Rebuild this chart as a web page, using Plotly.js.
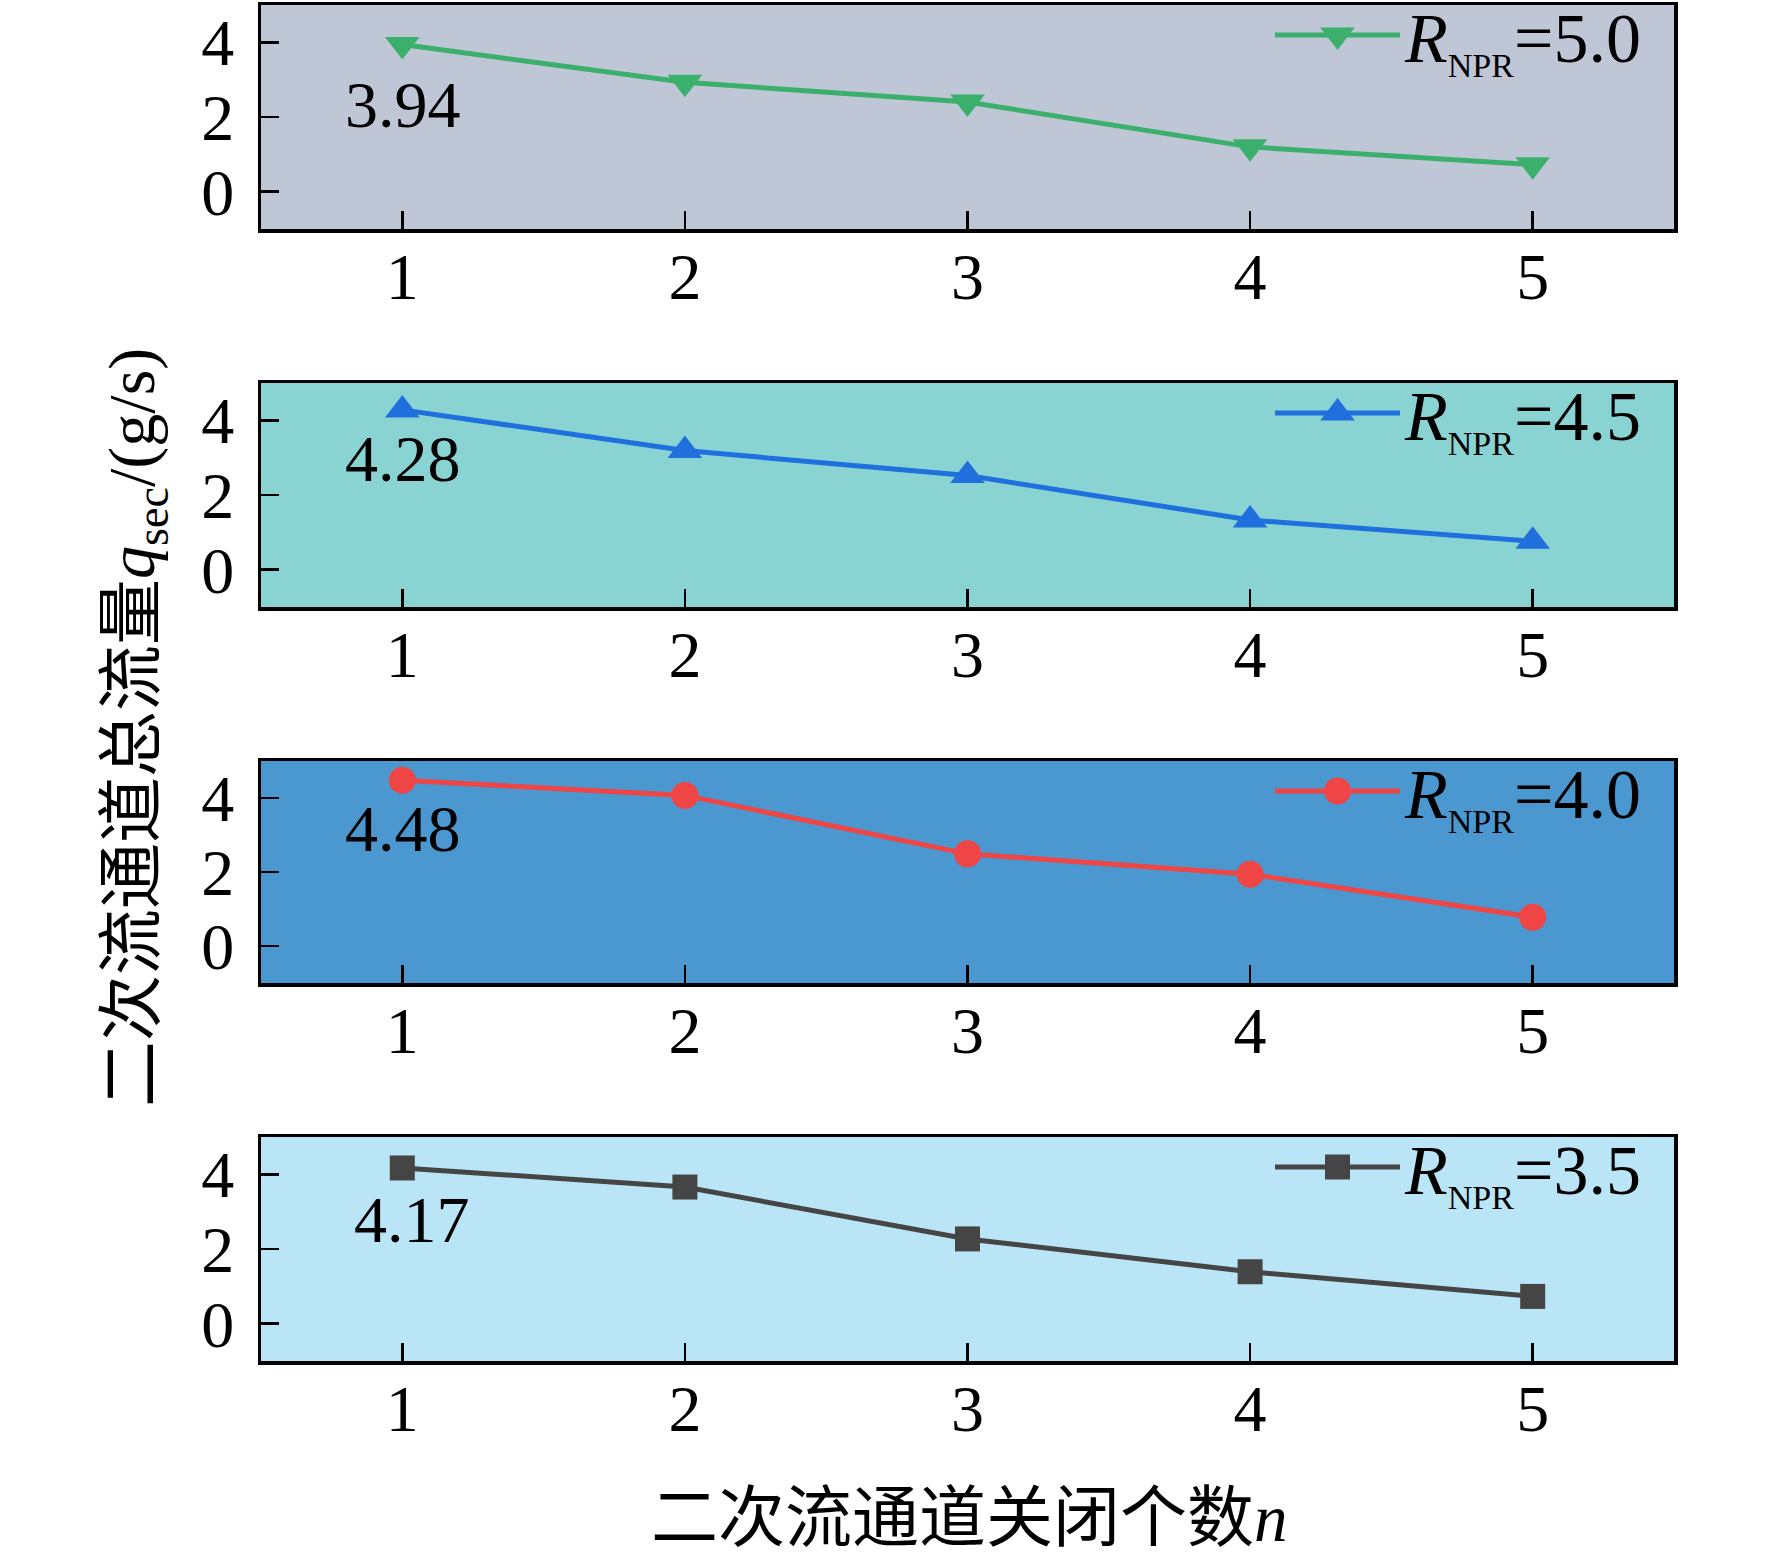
<!DOCTYPE html>
<html>
<head>
<meta charset="utf-8">
<script src="https://cdn.plot.ly/plotly-3.0.1.min.js"></script>
<style>
  html, body { margin: 0; padding: 0; background: #fff; }
  #chart { width: 1772px; height: 1557px; }
</style>
</head>
<body>
<div id="chart"></div>
<script>
// 数据：二次流通道关闭个数 n 与二次流通道总流量 q_sec (g/s)
const nClosed = [1, 2, 3, 4, 5];
const qNpr50 = [3.94, 2.93, 2.40, 1.20, 0.72];
const qNpr45 = [4.28, 3.19, 2.52, 1.33, 0.76];
const qNpr40 = [4.48, 4.07, 2.49, 1.94, 0.78];
const qNpr35 = [4.17, 3.66, 2.27, 1.39, 0.73];
const nprLabels = ['5.0', '4.5', '4.0', '3.5'];
const xTicks = [1, 2, 3, 4, 5];
const yTicks = [0, 2, 4];

const FONT = 'Liberation Serif, "Noto Sans CJK SC", serif';
const W = 1772, H = 1557;

// 每个子图的样式（从上到下）
const panels = [
  { q: qNpr50, npr: nprLabels[0], color: '#3BB06C', symbol: 'triangle-down', size: 30, bg: '#BFC6D6', top: 5,    bottom: 229,  lx: 1,  ly: -60 },
  { q: qNpr45, npr: nprLabels[1], color: '#1F6FDD', symbol: 'triangle-up',   size: 30, bg: '#8AD3D3', top: 383,  bottom: 607,  lx: 1,  ly: -49 },
  { q: qNpr40, npr: nprLabels[2], color: '#EF4545', symbol: 'circle',        size: 27, bg: '#4B97D0', top: 761,  bottom: 983,  lx: 1,  ly: -48 },
  { q: qNpr35, npr: nprLabels[3], color: '#454545', symbol: 'square',        size: 25, bg: '#BAE5F7', top: 1137, bottom: 1361, lx: 10, ly: -52 }
];

const xDomain = [261 / W, 1674 / W];
const traces = [], shapes = [], annotations = [];
const layout = {
  width: W, height: H,
  margin: { l: 0, r: 0, t: 0, b: 0, autoexpand: false },
  paper_bgcolor: '#ffffff',
  plot_bgcolor: 'rgba(0,0,0,0)',
  font: { family: FONT, size: 64, color: '#000' },
  showlegend: true
};

panels.forEach((p, i) => {
  const k = i === 0 ? '' : String(i + 1);
  const xa = 'x' + k, ya = 'y' + k, lg = 'legend' + k;
  traces.push({
    x: nClosed, y: p.q, xaxis: xa, yaxis: ya, legend: lg,
    type: 'scatter', mode: 'lines+markers',
    name: '<i>R</i><sub><span style="font-size:34px">NPR</span></sub>=' + p.npr,
    line: { color: p.color, width: 5 },
    marker: { color: p.color, symbol: p.symbol, size: p.size, line: { width: 0 } },
    cliponaxis: false
  });
  const yDom = [(H - p.bottom) / H, (H - p.top) / H];
  layout['xaxis' + k] = {
    domain: xDomain, anchor: ya, range: [0.5, 5.5],
    tickvals: xTicks, ticks: 'inside', ticklen: 18, tickwidth: 2.5, tickcolor: '#000',
    showline: true, mirror: true, linewidth: 3.5, linecolor: '#000',
    showgrid: false, zeroline: false, automargin: false,
    ticklabelstandoff: -13,
    tickfont: { family: FONT, size: 66, color: '#000' }
  };
  layout['yaxis' + k] = {
    domain: yDom, anchor: xa, range: [-1, 5],
    tickvals: yTicks, ticks: 'inside', ticklen: 18, tickwidth: 2.5, tickcolor: '#000',
    showline: true, mirror: true, linewidth: 3.5, linecolor: '#000',
    showgrid: false, zeroline: false, automargin: false,
    ticklabelstandoff: 10,
    tickfont: { family: FONT, size: 66, color: '#000' }
  };
  layout[lg] = {
    x: 1647 / W, xanchor: 'right',
    y: yDom[1] + 22 / H, yanchor: 'top',
    bgcolor: 'rgba(0,0,0,0)', borderwidth: 0,
    itemwidth: 125,
    font: { family: FONT, size: 70, color: '#000' }
  };
  shapes.push({
    type: 'rect', xref: xa + ' domain', yref: ya + ' domain',
    x0: 0, x1: 1, y0: 0, y1: 1, layer: 'below',
    fillcolor: p.bg, line: { width: 0 }
  });
  // 首点数值标注
  annotations.push({
    xref: xa, yref: ya, x: nClosed[0], y: p.q[0],
    text: p.q[0].toFixed(2), showarrow: false,
    xanchor: 'center', yanchor: 'middle',
    xshift: p.lx, yshift: p.ly,
    font: { family: FONT, size: 66, color: '#000' }
  });
});

// 共享坐标轴标题
annotations.push({
  xref: 'paper', yref: 'paper', x: 136 / W, y: (H - 728) / H,
  xanchor: 'center', yanchor: 'middle',
  text: '二次流通道总流量<i>q</i><sub>sec</sub>/(g/s)', textangle: -90,
  showarrow: false, font: { family: FONT, size: 66, color: '#000' }
});
annotations.push({
  xref: 'paper', yref: 'paper', x: 969 / W, y: (H - 1518) / H,
  xanchor: 'center', yanchor: 'middle',
  text: '二次流通道关闭个数<i>n</i>',
  showarrow: false, font: { family: FONT, size: 67, color: '#000' }
});

layout.shapes = shapes;
layout.annotations = annotations;

// 图例符号默认被限制在 16px，这里放大到与曲线标记相同
function findTrace(d) {
  while (Array.isArray(d)) {
    if (d[0] && d[0].trace) return d[0].trace;
    d = d[0];
  }
  return d && d.trace ? d.trace : null;
}
function enlargeLegendMarkers() {
  document.querySelectorAll('.legendpoints').forEach((lp, i) => {
    let g = lp;
    while (g && !(g.classList && g.classList.contains('traces'))) g = g.parentNode;
    const tr = g ? findTrace(g.__data__) : null;
    const size = tr ? tr.marker.size : panels[i % panels.length].size;
    lp.querySelectorAll('path.scatterpts, .scatterpts path').forEach(pt => {
      const t = pt.getAttribute('transform') || '';
      pt.setAttribute('transform', t + ' scale(' + (size / 16) + ')');
    });
  });
}

Plotly.newPlot('chart', traces, layout, { displayModeBar: false, staticPlot: true })
  .then(enlargeLegendMarkers);
</script>
</body>
</html>
